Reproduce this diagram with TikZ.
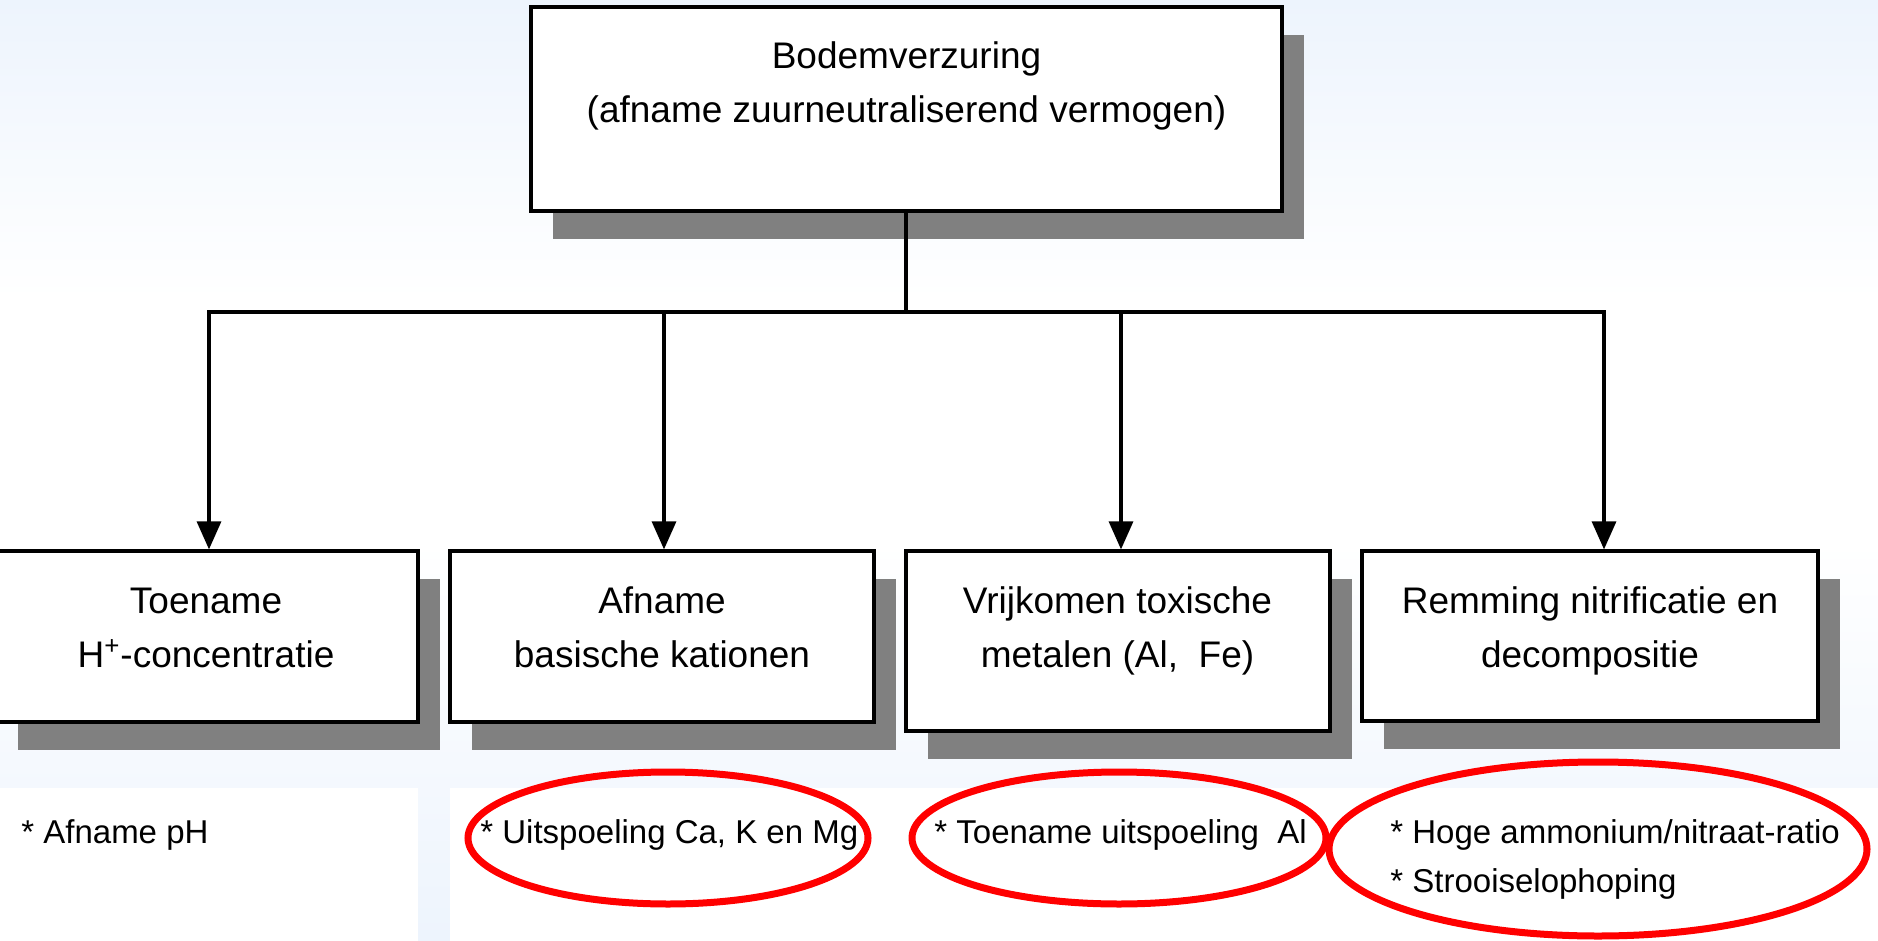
\documentclass[tikz,border=0pt]{standalone}
\usepackage{fontspec}
\setmainfont{Liberation Sans}
\usetikzlibrary{shapes.geometric,shadows,arrows.meta}
\definecolor{bgblue}{RGB}{237,244,253}
\definecolor{shgray}{RGB}{128,128,128}
\begin{document}
\begin{tikzpicture}[x=0.5pt,y=-0.5pt,
  box/.style={draw=black, line width=1.6pt, fill=white, inner sep=0pt,
    drop shadow={shadow xshift=11pt, shadow yshift=-14pt, fill=shgray, opacity=1}},
  boxtext/.style={align=center, font=\fontsize{18.5}{27}\selectfont, anchor=base, inner sep=0pt},
  bullet/.style={align=left, font=\fontsize{16.5}{24.5}\selectfont, anchor=base west, inner sep=0pt},
  ring/.style={ellipse, draw=red, line width=3.5pt, inner sep=0pt},
  conn/.style={line width=1.6pt},
  arr/.style={conn, -{Triangle[length=14pt,width=12pt]}}]
\useasboundingbox (0,0) rectangle (1878,941);
\begin{scope}
\clip (0,0) rectangle (1878,941);
% background
\shade[top color=bgblue, bottom color=white] (0,0) rectangle (1878,300);
\fill[white] (0,299) rectangle (1878,541);
\shade[top color=white, bottom color=bgblue] (0,540) rectangle (1878,941);
\fill[white] (0,788) rectangle (418,941);
\fill[white] (450,788) rectangle (1878,941);

% boxes
\node[box, minimum width=375.5pt, minimum height=102pt] (top) at (906.5,109) {};
\node[box, minimum width=211pt, minimum height=85.5pt] (b1) at (207,636.5) {};
\node[box, minimum width=212pt, minimum height=85.5pt] (b2) at (662,636.5) {};
\node[box, minimum width=212pt, minimum height=90pt] (b3) at (1118,641) {};
\node[box, minimum width=228pt, minimum height=85pt] (b4) at (1590,636) {};

% box texts (base anchor = baseline of last line)
\node[boxtext] (t0) at (906.5,123) {Bodemverzuring\\(afname zuurneutraliserend vermogen)};
\node[boxtext] (t1) at (206,667) {Toename\\H\textsuperscript{+}-concentratie};
\node[boxtext] (t2) at (662,667) {Afname\\basische kationen};
\node[boxtext] (t3) at (1117.5,667) {Vrijkomen toxische\\metalen (Al,~~Fe)};
\node[boxtext] (t4) at (1590,667) {Remming nitrificatie en\\decompositie};

% connectors
\coordinate (hub) at (906,312);
\coordinate (j1) at (209,312);
\coordinate (j2) at (664,312);
\coordinate (j3) at (1121,312);
\coordinate (j4) at (1604,312);
\draw[conn] (top.south -| hub) -- (hub);
\draw[conn, line cap=rect] (j1) -- (j4);
\draw[arr] (j1) -- (j1 |- b1.north);
\draw[arr] (j2) -- (j2 |- b2.north);
\draw[arr] (j3) -- (j3 |- b3.north);
\draw[arr] (j4) -- (j4 |- b4.north);

% ellipses
\node[ring, minimum width=200pt, minimum height=66pt] (e1) at (668,838) {};
\node[ring, minimum width=207pt, minimum height=66pt] (e2) at (1119,838) {};
\node[ring, minimum width=269pt, minimum height=87pt] (e3) at (1598,849) {};

% bullet texts
\node[bullet] (n1) at (21,843) {* Afname pH};
\node[bullet] (n2) at (480,843) {* Uitspoeling Ca, K en Mg};
\node[bullet] (n3) at (934,843) {* Toename uitspoeling~~Al};
\node[bullet] (n4) at (1390,892) {* Hoge ammonium/nitraat-ratio\\* Strooiselophoping};
\end{scope}
\end{tikzpicture}
\end{document}
